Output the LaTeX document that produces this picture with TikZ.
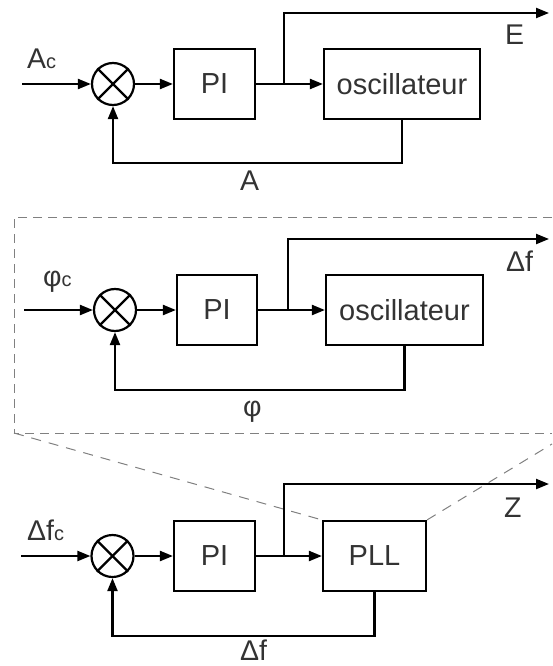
\documentclass[tikz,border=0pt]{standalone}
\usepackage{fontspec}
\setmainfont{Liberation Sans}
\usetikzlibrary{arrows.meta}
\definecolor{txt}{HTML}{333333}
\definecolor{dsh}{HTML}{808080}
\tikzset{
  arr/.style={line width=2.2pt,-{Triangle[length=13pt,width=10pt]}},
  ln/.style={line width=2.2pt},
  blk/.style={draw,line width=2.2pt,inner sep=0pt,minimum height=70pt,text=txt,font=\fontsize{29}{32}\selectfont},
  summ/.style={draw,circle,line width=2.2pt,minimum size=42pt,inner sep=0pt},
  lab/.style={text=txt,inner sep=0pt,font=\fontsize{28.5}{32}\selectfont},
  frame/.style={draw=dsh,line width=1pt,dash pattern=on 9pt off 6pt},
  diag/.style={draw=dsh,line width=1pt,dash pattern=on 10pt off 8pt}
}
\newcommand{\sml}[1]{{\fontsize{20}{24}\selectfont #1}}
\begin{document}
\begin{tikzpicture}[x=1pt,y=-1pt]
\useasboundingbox (0,0) rectangle (552,666);

% ---------- dashed frame and zoom lines
\coordinate (fr1) at (552,217);
\coordinate (fr2) at (14,217);
\coordinate (fr3) at (14,433);
\coordinate (fr4) at (552,433);
\coordinate (dg) at (552,444);

% ---------- top loop
\coordinate (in1) at (22,84);
\node[summ] (s1) at (113,84) {};
\node[blk,minimum width=81pt] (pi1) at (214.5,84) {PI};
\node[blk,minimum width=156pt] (osc1) at (402,84) {oscillateur};
\coordinate (b1) at (284,84);
\coordinate (out1) at (549,13);
\node[lab,anchor=base west] (lac) at (27,69) {A\sml{c}};
\node[lab,anchor=base west] (le) at (505,45) {E};
\node[lab,anchor=base west] (la) at (240,190) {A};

% ---------- middle loop
\coordinate (in2) at (24,310);
\node[summ] (s2) at (115,310) {};
\node[blk,minimum width=80pt] (pi2) at (217,310) {PI};
\node[blk,minimum width=157pt] (osc2) at (404.5,310) {oscillateur};
\coordinate (b2) at (288,310);
\coordinate (out2) at (549,239);
\node[lab,anchor=base west] (lpc) at (43,286) {φ\sml{c}};
\node[lab,anchor=base west] (ldf1) at (506,271) {Δf};
\node[lab,anchor=base west] (lp) at (243,416) {φ};

% ---------- bottom loop
\coordinate (in3) at (21,556);
\node[summ] (s3) at (112.5,556) {};
\node[blk,minimum width=81pt] (pi3) at (214.5,556) {PI};
\node[blk,minimum width=103pt] (pll) at (374.5,556) {PLL};
\coordinate (b3) at (284,556);
\coordinate (out3) at (549,484);
\node[lab,anchor=base west] (ldfc) at (27,540) {Δf\sml{c}};
\node[lab,anchor=base west] (lz) at (504,517) {Z};
\node[lab,anchor=base west] (ldf2) at (240,660) {Δf};

% dashed frame
\draw[frame] (fr1) -- (fr2) -- (fr3) -- (fr4);
\draw[diag] (fr3) -- (pll.north west);
\draw[diag] (pll.north east) -- (dg);

% summing crosses
\foreach \s in {s1,s2,s3}{
  \draw[ln] (\s.45) -- (\s.225);
  \draw[ln] (\s.135) -- (\s.315);
}

% connectors top
\draw[arr] (in1) -- (s1);
\draw[arr] (s1) -- (pi1);
\draw[arr] (pi1) -- (osc1);
\draw[arr] (b1) |- (out1);
\draw[arr] (osc1.south) -- ++(0,43) -| (s1.south);

% connectors middle
\draw[arr] (in2) -- (s2);
\draw[arr] (s2) -- (pi2);
\draw[arr] (pi2) -- (osc2);
\draw[arr] (b2) |- (out2);
\draw[arr] (osc2.south) -- ++(0,44) -| (s2.south);

% connectors bottom
\draw[arr] (in3) -- (s3);
\draw[arr] (s3) -- (pi3);
\draw[arr] (pi3) -- (pll);
\draw[arr] (b3) |- (out3);
\draw[arr] (pll.south) -- ++(0,43.5) -| (s3.south);
\end{tikzpicture}
\end{document}
